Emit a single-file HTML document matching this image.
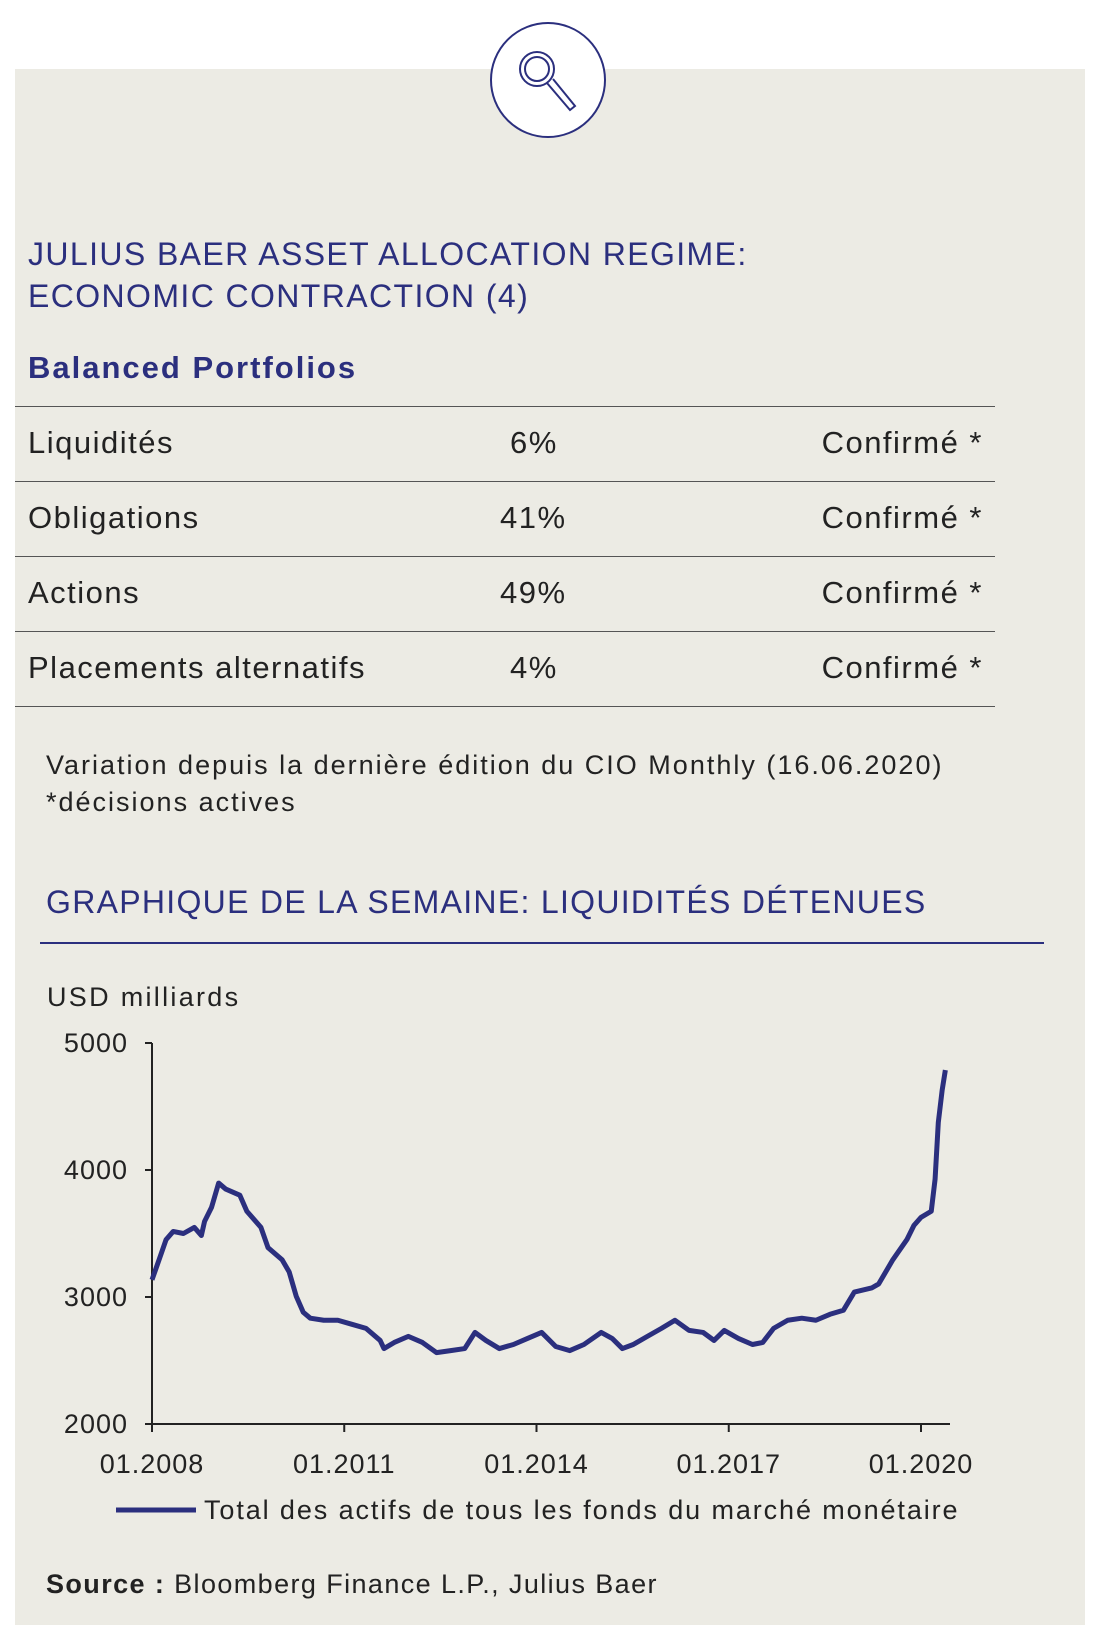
<!DOCTYPE html>
<html><head><meta charset="utf-8"><style>
body{margin:0;width:1096px;height:1629px;background:#fff;position:relative;overflow:hidden;font-family:"Liberation Sans",sans-serif;}
.abs{position:absolute;white-space:nowrap}
#panel{position:absolute;left:15px;top:69px;width:1070px;height:1556px;background:#ecebe4}
.navy{color:#2b2f7e}
.row{position:absolute;left:15px;width:980px;height:74px;border-top:1.5px solid #555;font-size:31px;color:#222;letter-spacing:1.5px}
.row span{position:absolute;top:18px}
</style></head><body>
<div id="panel"></div>
<svg class="abs" style="left:490px;top:20px" width="126" height="126">
<circle cx="58" cy="60" r="57" fill="#fff" stroke="#2b2f7e" stroke-width="2"/>
<circle cx="47" cy="49" r="17" fill="none" stroke="#2b2f7e" stroke-width="2"/>
<circle cx="47" cy="49" r="12" fill="none" stroke="#2b2f7e" stroke-width="2"/>
<path d="M57 63 L80 90 L85 86 L63 59" fill="none" stroke="#2b2f7e" stroke-width="2"/>
</svg>
<div class="abs navy" style="left:28px;top:233px;font-size:32px;line-height:42px;letter-spacing:1.4px">JULIUS BAER ASSET ALLOCATION REGIME:<br>ECONOMIC CONTRACTION (4)</div>
<div class="abs navy" style="left:28px;top:350px;font-size:31px;font-weight:bold;letter-spacing:2px">Balanced Portfolios</div>
<div class="row" style="top:406px"><span style="left:13px">Liquidités</span><span style="left:495px">6%</span><span style="right:12px">Confirmé *</span></div>
<div class="row" style="top:481px"><span style="left:13px">Obligations</span><span style="left:485px">41%</span><span style="right:12px">Confirmé *</span></div>
<div class="row" style="top:556px"><span style="left:13px">Actions</span><span style="left:485px">49%</span><span style="right:12px">Confirmé *</span></div>
<div class="row" style="top:631px;border-bottom:1.5px solid #555"><span style="left:13px">Placements alternatifs</span><span style="left:495px">4%</span><span style="right:12px">Confirmé *</span></div>
<div class="abs" style="left:46px;top:747px;font-size:27px;line-height:37px;color:#222;letter-spacing:2px">Variation depuis la dernière édition du CIO Monthly (16.06.2020)<br>*décisions actives</div>
<div class="abs navy" style="left:46px;top:884px;font-size:32px;letter-spacing:1.3px">GRAPHIQUE DE LA SEMAINE: LIQUIDITÉS DÉTENUES</div>
<div class="abs" style="left:40px;top:942px;width:1004px;height:1.5px;background:#2b2f7e"></div>
<div class="abs" style="left:47px;top:982px;font-size:27px;color:#222;letter-spacing:2.3px">USD milliards</div>
<svg class="abs" style="left:0;top:0" width="1096" height="1629" id="chart"></svg>
<div class="abs" style="left:46px;top:1569px;font-size:27px;color:#222;letter-spacing:1.4px"><b>Source :</b> Bloomberg Finance L.P., Julius Baer</div>
<script>
const years=[2008.00,2008.11,2008.22,2008.33,2008.49,2008.66,2008.77,2008.82,2008.93,2009.04,2009.15,2009.37,2009.48,2009.70,2009.81,2010.03,2010.14,2010.25,2010.36,2010.47,2010.68,2010.90,2011.12,2011.34,2011.56,2011.62,2011.78,2012.00,2012.22,2012.44,2012.66,2012.88,2013.04,2013.21,2013.42,2013.64,2013.86,2014.08,2014.30,2014.52,2014.74,2015.01,2015.18,2015.34,2015.51,2015.73,2015.95,2016.16,2016.38,2016.60,2016.77,2016.93,2017.15,2017.37,2017.53,2017.70,2017.92,2018.14,2018.36,2018.58,2018.79,2018.96,2019.23,2019.34,2019.56,2019.78,2019.89,2020.00,2020.16,2020.22,2020.27,2020.33,2020.38];
const values=[3135,3293,3452,3516,3500,3548,3484,3595,3707,3897,3850,3802,3675,3548,3389,3293,3198,3007,2880,2833,2817,2817,2785,2753,2658,2594,2642,2690,2642,2562,2578,2594,2721,2658,2594,2626,2674,2721,2610,2578,2626,2721,2674,2594,2626,2690,2753,2817,2737,2721,2658,2737,2674,2626,2642,2753,2817,2833,2817,2864,2896,3039,3071,3103,3293,3452,3564,3627,3675,3929,4374,4628,4787];
const yTicks=[2000,3000,4000,5000];
const xTicks=[2008,2011,2014,2017,2020];
const xTickLabels=["01.2008","01.2011","01.2014","01.2017","01.2020"];
const NS="http://www.w3.org/2000/svg";
const svg=document.getElementById('chart');
const X=y=>152+(y-2008)*(921-152)/12;
const Y=v=>1424-(v-2000)*(1424-1043)/3000;
function mk(t,a){const e=document.createElementNS(NS,t);for(const k in a)e.setAttribute(k,a[k]);svg.appendChild(e);return e;}
let ax=mk('path',{d:`M${X(2008)} ${Y(5000)} V${Y(2000)} H950`,stroke:'#222','stroke-width':2,fill:'none'});


yTicks.forEach(v=>{
 const t=mk('line',{x1:X(2008)-7,x2:X(2008),y1:Y(v),y2:Y(v),stroke:'#222','stroke-width':2});
 
 
 const l=mk('text',{x:X(2008)-24,y:Y(v)+9,'text-anchor':'end','font-size':27,fill:'#222','font-family':'Liberation Sans, sans-serif','letter-spacing':1});
 l.textContent=v;
 
 
});
xTicks.forEach((yr,i)=>{
 const t=mk('line',{x1:X(yr),x2:X(yr),y1:Y(2000),y2:Y(2000)+8,stroke:'#222','stroke-width':2});
 
 
 const l=mk('text',{x:X(yr),y:1473,'text-anchor':'middle','font-size':27,fill:'#222','font-family':'Liberation Sans, sans-serif','letter-spacing':1});
 l.textContent=xTickLabels[i];
 
 
});
const p=mk('polyline',{points:years.map((y,i)=>X(y)+','+Y(values[i])).join(' '),fill:'none',stroke:'#2b2f7e','stroke-width':5,'stroke-linejoin':'round'});


const ll=mk('line',{x1:116,x2:196,y1:1510,y2:1510,stroke:'#2b2f7e','stroke-width':5});


const lt=mk('text',{x:204,y:1519,'font-size':27,fill:'#222','font-family':'Liberation Sans, sans-serif','letter-spacing':1.9});
lt.textContent='Total des actifs de tous les fonds du marché monétaire';


</script>
</body></html>
